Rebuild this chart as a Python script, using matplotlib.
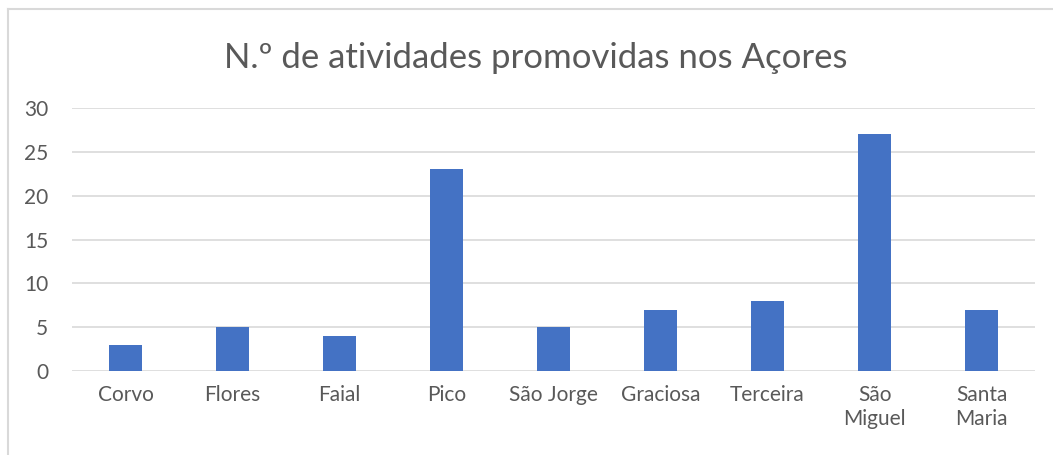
import matplotlib
matplotlib.use("Agg")
import matplotlib.pyplot as plt
from matplotlib.lines import Line2D

ilhas = ["Corvo", "Flores", "Faial", "Pico", "São Jorge", "Graciosa",
         "Terceira", "São\nMiguel", "Santa\nMaria"]
atividades = [3, 5, 4, 23, 5, 7, 8, 27, 7]
y_ticks = [0, 5, 10, 15, 20, 25, 30]

plt.rcParams['font.family'] = ['Lato', 'DejaVu Sans']
cor_texto = '#595959'

fig = plt.figure(figsize=(10.53, 4.55), dpi=100)
ax = fig.add_axes([0.0684, 0.1846, 0.9146, 0.578])

x = range(len(ilhas))
ax.bar(x, atividades, width=0.31, color='#4472C4', zorder=3)

ax.set_xlim(-0.5, len(ilhas) - 0.5)
ax.set_ylim(0, 30)
ax.set_yticks(y_ticks)
ax.set_xticks(list(x))
ax.set_xticklabels(ilhas, linespacing=1.25)
ax.tick_params(axis='both', length=0, colors=cor_texto, labelsize=15)
ax.tick_params(axis='x', pad=10)
ax.tick_params(axis='y', pad=17)
ax.grid(axis='y', color='#D9D9D9', linewidth=1.2, zorder=0)
for s in ax.spines.values():
    s.set_visible(False)

fig.text(0.509, 0.872, "N.º de atividades promovidas nos Açores",
         ha='center', va='center', fontsize=25, color=cor_texto)

# borda da área do gráfico (só esquerda e topo visíveis)
fig.add_artist(Line2D([0.008, 0.008], [0.0, 0.98], color='#D9D9D9',
                      linewidth=1.5, transform=fig.transFigure))
fig.add_artist(Line2D([0.008, 1.0], [0.98, 0.98], color='#D9D9D9',
                      linewidth=1.5, transform=fig.transFigure))

fig.savefig("out.png", dpi=100)
